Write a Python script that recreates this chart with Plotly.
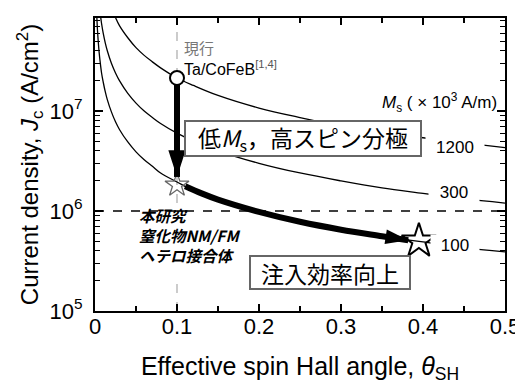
import plotly.graph_objects as go

# ---------------- data ----------------
theta_1200 = [0.025, 0.03, 0.04, 0.05, 0.06, 0.07, 0.08, 0.1, 0.12, 0.15, 0.2, 0.25, 0.3, 0.35, 0.4, 0.45, 0.5]
jc_1200 = [8.6e7, 7.1e7, 5.4e7, 4.3e7, 3.6e7, 3.1e7, 2.7e7, 2.14e7, 1.8e7, 1.43e7, 1.07e7, 8.6e6, 7.1e6, 6.1e6, 5.4e6, 4.8e6, 4.3e6]

theta_300 = [0.007, 0.008, 0.01, 0.0125, 0.015, 0.02, 0.025, 0.03, 0.04, 0.05, 0.06, 0.07, 0.08, 0.1, 0.12, 0.15, 0.2, 0.25, 0.3, 0.35, 0.4, 0.45, 0.5]
jc_300 = [8.6e7, 7.5e7, 6.0e7, 4.8e7, 4.0e7, 3.0e7, 2.4e7, 2.0e7, 1.5e7, 1.2e7, 1.0e7, 8.6e6, 7.5e6, 6.0e6, 5.0e6, 4.0e6, 3.0e6, 2.4e6, 2.0e6, 1.7e6, 1.5e6, 1.33e6, 1.2e6]

theta_100 = [0.0023, 0.003, 0.004, 0.005, 0.006, 0.008, 0.01, 0.0125, 0.015, 0.02, 0.025, 0.03, 0.04, 0.05, 0.06, 0.07, 0.08, 0.1, 0.12, 0.15, 0.2, 0.25, 0.3, 0.35, 0.4, 0.45, 0.5]
jc_100 = [8.5e7, 6.5e7, 4.9e7, 3.9e7, 3.25e7, 2.4e7, 1.95e7, 1.56e7, 1.3e7, 9.8e6, 7.8e6, 6.5e6, 4.9e6, 3.9e6, 3.25e6, 2.8e6, 2.4e6, 1.95e6, 1.6e6, 1.3e6, 9.8e5, 7.8e5, 6.5e5, 5.6e5, 4.9e5, 4.3e5, 3.9e5]

# points
current_theta, current_jc = 0.1, 2.14e7        # Ta/CoFeB (current)
study_theta, study_jc = 0.1, 1.82e6            # this work
target_theta, target_jc = 0.395, 5.0e5         # goal star

# vertical arrow (low Ms, high spin polarisation)
arrow1_theta = [0.1, 0.1]
arrow1_jc = [2.14e7, 2.19e6]
# curved arrow (injection efficiency)
arrow2_theta = [0.11, 0.13, 0.15, 0.2, 0.25, 0.3, 0.35, 0.382]
arrow2_jc = [1.77e6, 1.5e6, 1.3e6, 9.8e5, 7.8e5, 6.5e5, 5.6e5, 5.1e5]

ref_jc = 1e6
ref_theta = 0.1

x_ticks = [0, 0.1, 0.2, 0.3, 0.4, 0.5]
x_ticktext = ["0", "0.1", "0.2", "0.3", "0.4", "0.5"]
y_ticks = [1e5, 1e6, 1e7]
y_ticktext = ["10<sup>5</sup>", "10<sup>6</sup>", "10<sup>7</sup>"]
y_minor = [k * 10 ** n for n in (5, 6, 7) for k in range(2, 10) if k * 10 ** n < 8.5e7]

curve_labels = ["1200", "300", "100"]

FONT = "Liberation Sans, Arial, sans-serif"
JP = "Noto Sans CJK JP, sans-serif"

fig = go.Figure()

for th, jc in [(theta_1200, jc_1200), (theta_300, jc_300), (theta_100, jc_100)]:
    fig.add_trace(go.Scatter(x=th, y=jc, mode="lines", line=dict(color="black", width=1.3, shape="spline"),
                             hoverinfo="skip", showlegend=False))

# markers under arrows
fig.add_trace(go.Scatter(x=[study_theta], y=[study_jc], mode="markers",
                         marker=dict(symbol="star-open", size=18, color="#666666", line=dict(width=1.3)),
                         showlegend=False, hoverinfo="skip"))

# thick arrows: shafts
fig.add_trace(go.Scatter(x=arrow1_theta, y=arrow1_jc, mode="lines",
                         line=dict(color="black", width=6, backoff=14),
                         showlegend=False, hoverinfo="skip"))
fig.add_trace(go.Scatter(x=arrow2_theta, y=arrow2_jc, mode="lines",
                         line=dict(color="black", width=6, shape="spline", backoff=10),
                         showlegend=False, hoverinfo="skip"))
# thick arrows: heads (tip at the last point)
fig.add_trace(go.Scatter(x=arrow1_theta, y=arrow1_jc, mode="markers",
                         marker=dict(symbol="arrow", size=[0, 28], color="rgb(0,0,0)", opacity=1,
                                     angleref="previous", line=dict(width=0, color="rgb(0,0,0)")),
                         showlegend=False, hoverinfo="skip"))
fig.add_trace(go.Scatter(x=arrow2_theta[-2:], y=arrow2_jc[-2:], mode="markers",
                         marker=dict(symbol="arrow", size=[0, 24], color="rgb(0,0,0)", opacity=1,
                                     angleref="previous", line=dict(width=0, color="rgb(0,0,0)")),
                         showlegend=False, hoverinfo="skip"))

fig.add_trace(go.Scatter(x=[current_theta], y=[current_jc], mode="markers",
                         marker=dict(symbol="circle", size=14, color="white", line=dict(color="black", width=2)),
                         showlegend=False, hoverinfo="skip"))
fig.add_trace(go.Scatter(x=[target_theta], y=[target_jc], mode="markers",
                         marker=dict(symbol="star-open", size=26, color="black", line=dict(width=2)),
                         showlegend=False, hoverinfo="skip"))

# dashed reference lines (behind everything), text area of the "this work" note kept clear
fig.add_shape(type="line", xref="x", yref="y", x0=0, x1=0.5, y0=ref_jc, y1=ref_jc,
              line=dict(color="black", width=1.3, dash="dash"), layer="below")
fig.add_shape(type="line", xref="x", yref="paper", x0=ref_theta, x1=ref_theta, y0=0, y1=1,
              line=dict(color="#aaaaaa", width=1.2, dash="dash"), layer="below")
fig.add_shape(type="rect", xref="x", yref="paper", x0=0.022, x1=0.156, y0=0.106, y1=0.35,
              line=dict(width=0), fillcolor="white", layer="below")

C = dict(xanchor="center", yanchor="middle", xref="paper", yref="paper", showarrow=False)
L = dict(xanchor="left", yanchor="middle", xref="paper", yref="paper", showarrow=False)

ann = []
ann.append(dict(**C, x=0.508, y=0.589, width=234, height=33,
                text="低<i>M</i><sub>s</sub>，高スピン分極", font=dict(family=JP, size=23, color="black"),
                bgcolor="white", bordercolor="#666666", borderwidth=2, borderpad=0))
ann.append(dict(**C, x=0.574, y=0.131, width=158, height=31,
                text="注入効率向上", font=dict(family=JP, size=23, color="black"),
                bgcolor="white", bordercolor="#666666", borderwidth=2, borderpad=0))
ann.append(dict(**L, x=0.102, y=0.261, align="left",
                text="<b><i>本研究<br>窒化物NM/FM<br>ヘテロ接合体</i></b>",
                font=dict(family=JP, size=15.5, color="black")))
ann.append(dict(**L, x=0.212, y=0.898,
                text="現行", font=dict(family=JP, size=15, color="#777777")))
ann.append(dict(**L, x=0.212, y=0.829,
                text="Ta/CoFeB<sup><span style='color:#555555'>[1,4]</span></sup>",
                font=dict(family=FONT, size=16, color="black")))
ann.append(dict(xanchor="right", yanchor="middle", xref="paper", yref="paper", showarrow=False,
                x=0.985, y=0.71,
                text="<i>M</i><sub>s</sub> ( × 10<sup>3</sup> A/m)", font=dict(family=FONT, size=17, color="black")))
for lab, (px, py, w) in zip(curve_labels, [(0.878, 0.557, 56), (0.876, 0.403, 48), (0.878, 0.225, 46)]):
    ann.append(dict(**C, x=px, y=py, text=lab, width=w,
                    font=dict(family=FONT, size=17, color="black"), bgcolor="white"))

# the page body has an 8px default margin, compensated here
fig.update_layout(
    width=523, height=380,
    margin=dict(l=87, r=26, t=10, b=77, autoexpand=False),
    paper_bgcolor="white", plot_bgcolor="white",
    annotations=ann,
    font=dict(family=FONT, size=20, color="black"),
)
fig.update_xaxes(range=[0, 0.5], tickvals=x_ticks, ticktext=x_ticktext, automargin=False,
                 ticks="inside", ticklen=7, tickwidth=1.5, tickcolor="black", ticklabelstandoff=-5,
                 minor=dict(dtick=0.05, ticks="inside", ticklen=5, tickwidth=1.5, tickcolor="black", showgrid=False),
                 showline=True, linecolor="black", linewidth=2, mirror="ticks", showgrid=False, zeroline=False,
                 tickfont=dict(size=22),
                 title=dict(text="Effective spin Hall angle, <i>θ</i><sub>SH</sub>", font=dict(size=25), standoff=19))
fig.update_yaxes(type="log", range=[5, 7.93], tickvals=y_ticks, ticktext=y_ticktext, automargin=False,
                 ticks="inside", ticklen=8, tickwidth=1.5, tickcolor="black", ticklabelstandoff=6,
                 minor=dict(tickvals=y_minor, ticks="inside", ticklen=5, tickwidth=1.2, tickcolor="black", showgrid=False),
                 showline=True, linecolor="black", linewidth=2, mirror="ticks", showgrid=False, zeroline=False,
                 tickfont=dict(size=22),
                 title=dict(text="Current density, <i>J</i><sub>c</sub> (A/cm<sup>2</sup>)", font=dict(size=24), standoff=4))

fig.write_html("out.html")
